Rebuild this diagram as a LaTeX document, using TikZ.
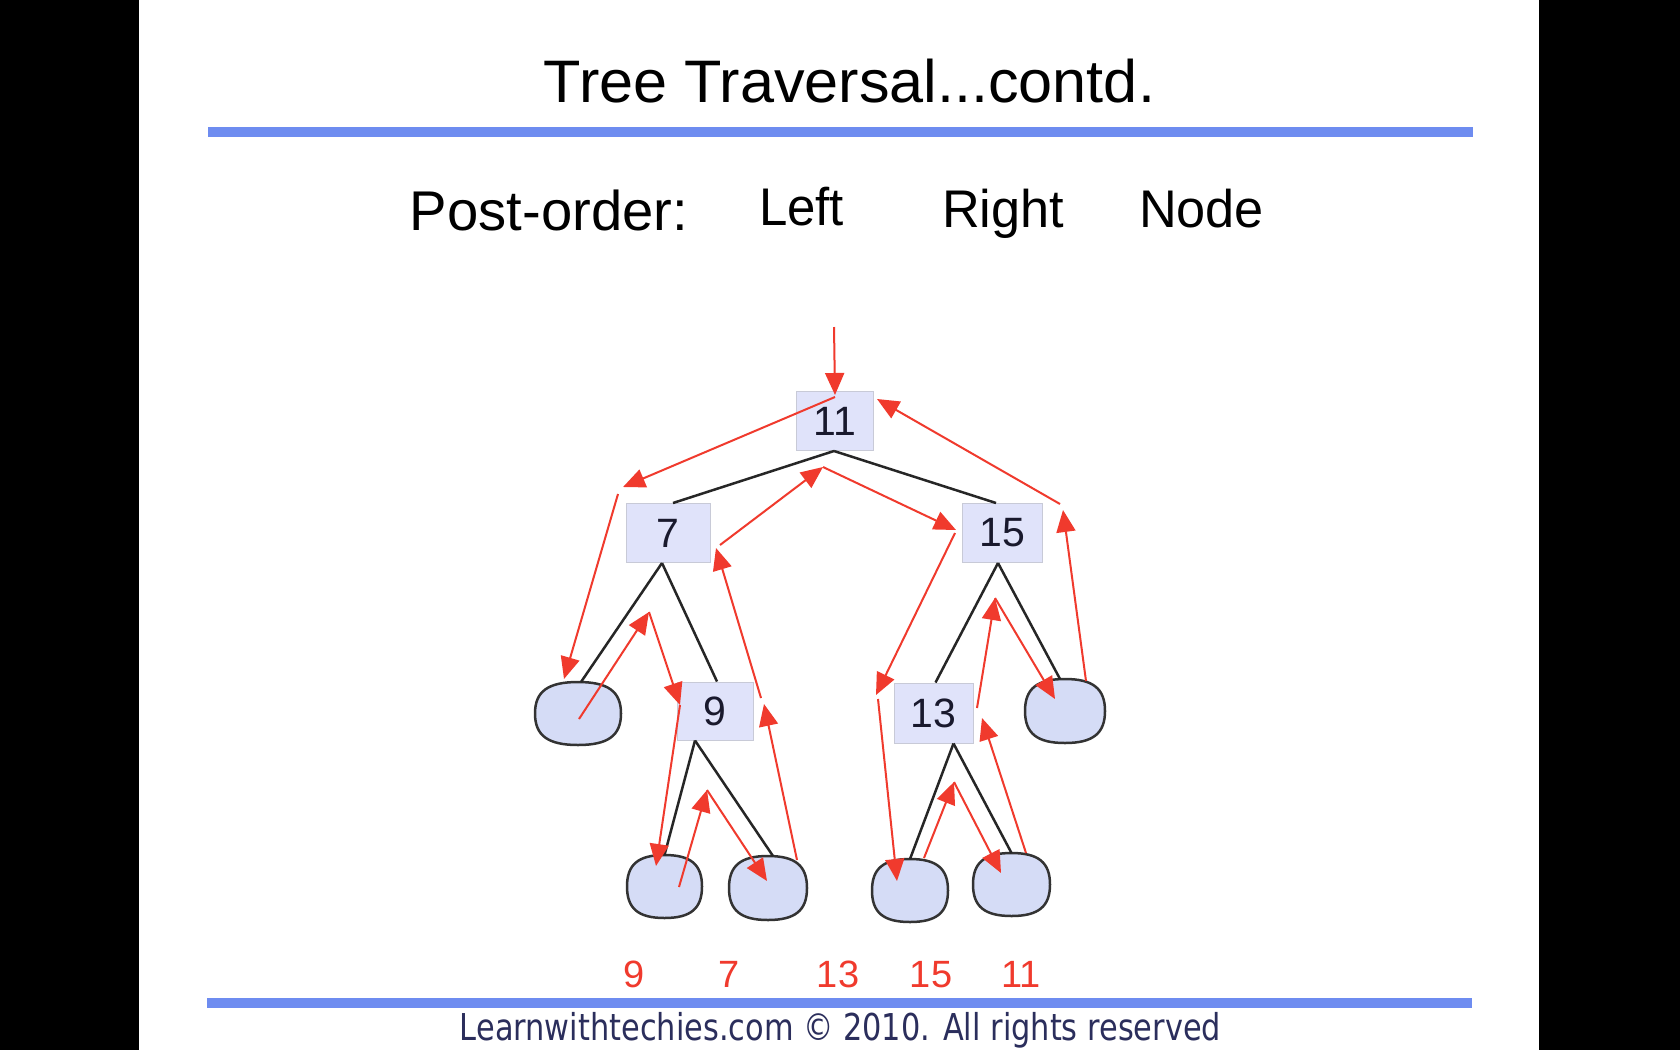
\documentclass[tikz,border=0pt]{standalone}
\usepackage{fontspec}
\usepackage{graphicx}
\setmainfont{Liberation Sans}
\newfontfamily\footfont{DejaVu Sans}
\usetikzlibrary{arrows.meta,calc}
\definecolor{slideblue}{RGB}{110,140,240}
\definecolor{boxfill}{RGB}{224,227,250}
\definecolor{boxline}{RGB}{200,202,215}
\definecolor{leaffill}{RGB}{213,220,246}
\definecolor{trav}{RGB}{240,58,45}
\definecolor{foot}{RGB}{43,46,92}
\definecolor{numtext}{RGB}{25,25,45}
\tikzset{
  valbox/.style={draw=boxline, line width=1pt, fill=boxfill, inner sep=0pt, minimum height=59pt, text=numtext, font=\fontsize{41}{44}\selectfont},
  leaf/.style={inner sep=0pt, outer sep=0pt},
  leafline/.style={draw=black!80, line width=2.5pt, fill=leaffill},
  edge/.style={draw=black!85, line width=2.5pt},
  trv/.style={draw=trav, line width=2pt, -{Triangle[length=22pt,width=19pt]}},
  heading/.style={inner sep=0pt, anchor=base},
  order/.style={inner sep=0pt, anchor=base, text=trav, font=\fontsize{38}{42}\selectfont},
}
\newcommand\drawleaf[1]{%
  \path[leafline] (#1.west)
    .. controls ($(#1.west)!0.7!(#1.north west)$) and ($(#1.north)!0.7!(#1.north west)$) .. (#1.north)
    .. controls ($(#1.north)!0.7!(#1.north east)$) and ($(#1.east)!0.7!(#1.north east)$) .. (#1.east)
    .. controls ($(#1.east)!0.7!(#1.south east)$) and ($(#1.south)!0.7!(#1.south east)$) .. (#1.south)
    .. controls ($(#1.south)!0.7!(#1.south west)$) and ($(#1.west)!0.7!(#1.south west)$) .. (#1.west) -- cycle;}
\begin{document}
\begin{tikzpicture}[x=1pt,y=-1pt]
\fill[black] (0,0) rectangle (1680,1050);
\fill[white] (139,0) rectangle (1539,1050);
\useasboundingbox (0,0) rectangle (1680,1050);
% title and rules
\node[heading] (title) at (849.5,102) {\resizebox{611pt}{\height}{\fontsize{60}{72}\selectfont Tree Traversal...contd.}};
\fill[slideblue] (208,127) rectangle (1473,137);
\fill[slideblue] (207,998) rectangle (1472,1008);
\node[heading] (post) at (549,230) {\resizebox{278pt}{\height}{\fontsize{56}{66}\selectfont Post-order:}};
\node[heading] (left) at (801.5,225) {\resizebox{85pt}{\height}{\fontsize{53}{62}\selectfont Left}};
\node[heading] (right) at (1003,227) {\resizebox{122pt}{\height}{\fontsize{53}{62}\selectfont Right}};
\node[heading] (nodew) at (1201.5,227) {\resizebox{125pt}{\height}{\fontsize{53}{62}\selectfont Node}};
\node[heading, text=foot] (footer) at (840.5,1040) {\resizebox{761pt}{\height}{\footfont\fontsize{37}{44}\selectfont Learnwithtechies.com © 2010. All rights reserved}};
% tree nodes
\node[valbox, minimum width=77pt] (n11) at (835,421) {11};
\node[valbox, minimum width=84pt] (n7) at (668,533) {7};
\node[valbox, minimum width=80pt] (n15) at (1002,533) {15};
\node[valbox, minimum width=76pt, minimum height=58pt] (n9) at (715,711) {9};
\node[valbox, minimum width=79pt, minimum height=60pt] (n13) at (933.5,713) {13};
\node[leaf, minimum width=86pt, minimum height=63pt] (l1) at (578,713.5) {};
\node[leaf, minimum width=80pt, minimum height=64pt] (r1) at (1065,711) {};
\node[leaf, minimum width=75pt, minimum height=63pt] (l9a) at (664.5,886.5) {};
\node[leaf, minimum width=78pt, minimum height=64pt] (l9b) at (768,888) {};
\node[leaf, minimum width=76pt, minimum height=63pt] (l13a) at (910,890.5) {};
\node[leaf, minimum width=77pt, minimum height=63pt] (l13b) at (1011.5,884.5) {};
\drawleaf{l1}
\drawleaf{r1}
\drawleaf{l9a}
\drawleaf{l9b}
\drawleaf{l13a}
\drawleaf{l13b}
% tree edges
\draw[edge] ([xshift=-1pt]n11.south) -- ([xshift=5pt]n7.north);
\draw[edge] ([xshift=-1pt]n11.south) -- ([xshift=-6pt]n15.north);
\draw[edge] ([xshift=-6pt]n7.south) -- ([xshift=3pt]l1.north);
\draw[edge] ([xshift=-6pt]n7.south) -- ([xshift=2pt]n9.north);
\draw[edge] ([xshift=-20pt]n9.south) -- (l9a.north);
\draw[edge] ([xshift=-20pt]n9.south) -- ([xshift=5pt]l9b.north);
\draw[edge] ([xshift=20pt]n13.south) -- (l13a.north);
\draw[edge] ([xshift=20pt]n13.south) -- ([xshift=0pt]l13b.north);
\draw[edge] ([xshift=-4pt]n15.south) -- ([xshift=2pt]n13.north);
\draw[edge] ([xshift=-4pt]n15.south) -- ([xshift=-5pt]r1.north);
% traversal path
\coordinate (start) at (834,327);
\coordinate (a1) at (623,487);
\coordinate (a2) at (618,494);
\coordinate (a3) at (564,679);
\coordinate (a4) at (579,719);
\coordinate (a5) at (649,612);
\coordinate (a6) at (680,705);
\coordinate (a7) at (656,866);
\coordinate (a8) at (679,887);
\coordinate (a9) at (707,790);
\coordinate (a10) at (767,881);
\coordinate (a11) at (797,860);
\coordinate (a12) at (764,704);
\coordinate (a13) at (761,698);
\coordinate (a14) at (716,548);
\coordinate (a15) at (720,545);
\coordinate (a16) at (823,467);
\coordinate (a17) at (956,530);
\coordinate (a18) at (955,533);
\coordinate (a19) at (876,695);
\coordinate (a20) at (878,699);
\coordinate (a21) at (897,881);
\coordinate (a22) at (924,858);
\coordinate (a23) at (954,782);
\coordinate (a24) at (1001,873);
\coordinate (a25) at (1026,853);
\coordinate (a26) at (982,718);
\coordinate (a27) at (977,708);
\coordinate (a28) at (995,598);
\coordinate (a29) at (1055,699);
\coordinate (a30) at (1086,681);
\coordinate (a31) at (1063,510);
\coordinate (a32) at (1060,504);
\coordinate (a33) at (877,399);
\draw[trv] (start) -- ([yshift=26pt]n11.center);
\draw[trv] ([yshift=24pt]n11.center) -- (a1);
\draw[trv] (a2) -- (a3);
\draw[trv] (a4) -- (a5);
\draw[trv] (a5) -- (a6);
\draw[trv] (a6) -- (a7);
\draw[trv] (a8) -- (a9);
\draw[trv] (a9) -- (a10);
\draw[trv] (a11) -- (a12);
\draw[trv] (a13) -- (a14);
\draw[trv] (a15) -- (a16);
\draw[trv] (a16) -- (a17);
\draw[trv] (a18) -- (a19);
\draw[trv] (a20) -- (a21);
\draw[trv] (a22) -- (a23);
\draw[trv] (a23) -- (a24);
\draw[trv] (a25) -- (a26);
\draw[trv] (a27) -- (a28);
\draw[trv] (a28) -- (a29);
\draw[trv] (a30) -- (a31);
\draw[trv] (a32) -- (a33);
% post-order result
\node[order] (o1) at (634,987) {9};
\node[order] (o2) at (729,987) {7};
\node[order] (o3) at (838,987) {13};
\node[order] (o4) at (931,987) {15};
\node[order] (o5) at (1021,987) {11};
\end{tikzpicture}
\end{document}
